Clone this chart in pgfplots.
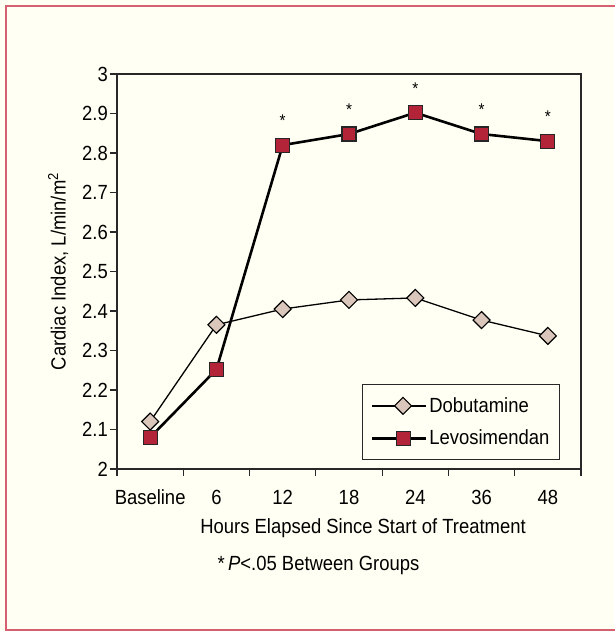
\documentclass[border=0pt]{standalone}
\usepackage{fontspec}
\setmainfont{Liberation Sans}[FakeStretch=0.9]
\usepackage{pgfplots}
\pgfplotsset{compat=1.18}
\definecolor{bg}{RGB}{255,255,243}
\definecolor{framec}{RGB}{214,96,112}
\definecolor{levo}{RGB}{180,36,56}
\definecolor{dobu}{RGB}{218,198,186}
\definecolor{axc}{RGB}{40,40,40}
\newcommand{\fs}{\fontsize{20.5}{22}\selectfont}
\begin{document}
\begin{tikzpicture}
\fill[bg] (-117pt,-162pt) rectangle (497pt,469pt);
\useasboundingbox (-117pt,-162pt) rectangle (497pt,469pt);
\draw[framec, line width=2pt] (505pt,463pt) -- (-111pt,463pt) -- (-111pt,-161pt) -- (505pt,-161pt);
\begin{axis}[
  at={(0pt,0pt)}, anchor=south west,
  scale only axis, width=464pt, height=395pt,
  xmin=-0.5, xmax=6.5, ymin=2, ymax=3,
  axis line style={axc, line width=1.4pt},
  every tick/.style={axc, line width=1.2pt},
  xtick={0,1,2,3,4,5,6},
  xticklabels={Baseline,6,12,18,24,36,48},
  major x tick style={draw=none},
  minor xtick={-0.5,0.5,1.5,2.5,3.5,4.5,5.5,6.5},
  ytick={2,2.1,2.2,2.3,2.4,2.5,2.6,2.7,2.8,2.9,3},
  tick pos=left, tick align=outside,
  major tick length=7pt, minor tick length=7pt,
  ticklabel style={font=\fs},
  /pgf/number format/assume math mode=true,
  yticklabel style={/pgf/number format/fixed, /pgf/number format/precision=1, inner sep=2pt},
  xticklabel style={anchor=base, yshift=-28pt},
  xlabel={Hours Elapsed Since Start of Treatment},
  xlabel style={font=\fs, at={(axis description cs:0.5,0)}, anchor=base, xshift=14pt, yshift=-64pt},
  ylabel={Cardiac Index, L/min/m\textsuperscript{2}},
  ylabel style={font=\fs, at={(axis description cs:-0.127,0.5)}, anchor=center},
  legend style={at={(rel axis cs:0.9547,0.0228)}, anchor=south east, draw=axc, line width=1.2pt, fill=none,
    font=\fs, inner xsep=8pt, inner ysep=11pt, row sep=12pt},
  legend cell align=left,
  legend image code/.code={\path (0pt,0pt) -- (54pt,0pt); \draw[mark repeat=2, mark phase=2] plot coordinates {(11pt,0pt) (31pt,0pt) (51pt,0pt)};},
  clip=false,
]
\addplot[black, line width=1.3pt, mark=square*, mark size=6pt,
  mark options={rotate=45, fill=dobu, draw=black, line width=1.1pt, solid}]
  coordinates {(0,2.12) (1,2.365) (2,2.405) (3,2.428) (4,2.433) (5,2.377) (6,2.337)};
\addlegendentry{Dobutamine}
\addplot[black, line width=2.6pt, mark=square*, mark size=7pt,
  mark options={fill=levo, draw=black!85, line width=1.1pt, solid}]
  coordinates {(0,2.08) (1,2.252) (2,2.82) (3,2.848) (4,2.902) (5,2.848) (6,2.830)};
\addlegendentry{Levosimendan}
\addplot[draw=none, mark=none, nodes near coords={*},
  nodes near coords style={font=\fontsize{17}{17}\selectfont, anchor=center, yshift=24pt}, forget plot]
  coordinates {(2,2.82) (3,2.848) (4,2.902) (5,2.848) (6,2.830)};
\node[anchor=base west, font=\fs] at (axis cs:-0.5,2) [xshift=97pt, yshift=-101pt] {*\,\textit{P}<.05 Between Groups};
\end{axis}
\end{tikzpicture}
\end{document}
